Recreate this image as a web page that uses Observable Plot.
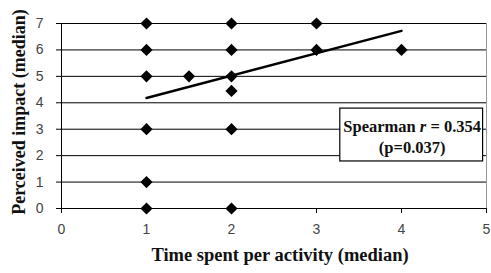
<!DOCTYPE html>
<html>
<head>
<meta charset="utf-8">
<script src="https://cdn.jsdelivr.net/npm/d3@7"></script>
<script src="https://cdn.jsdelivr.net/npm/@observablehq/plot@0.6"></script>
<style>
  html, body { margin: 0; padding: 0; background: #fff; }
  .note text { font-family: "Liberation Serif", "Times New Roman", serif; font-weight: bold; font-size: 16.5px; fill: #111; }
</style>
</head>
<body>
<div id="chart"></div>
<script>
// Data
const timeSpent   = [1, 1, 1, 1, 1, 1, 1.5, 2, 2, 2, 2, 2, 2, 3, 3, 4];
const impact      = [7, 6, 5, 3, 1, 0, 5,   7, 6, 5, 4.45, 3, 0, 7, 6, 6];
const fitX        = [1, 4];
const fitY        = [4.18, 6.72];
const xTicks      = [0, 1, 2, 3, 4, 5];
const yTicks      = [0, 1, 2, 3, 4, 5, 6, 7];
const xTitle      = "Time spent per activity (median)";
const yTitle      = "Perceived impact (median)";
const noteLine1a  = "Spearman ";
const noteLine1b  = "r";
const noteLine1c  = " = 0.354";
const noteLine2   = "(p=0.037)";
// annotation box corners in data units
const noteBox     = {x1: 3.28, x2: 4.96, y1: 1.78, y2: 3.78};

const points = timeSpent.map((x, i) => ({x, y: impact[i]}));
const fit = fitX.map((x, i) => ({x, y: fitY[i]}));

const tickFont = "Liberation Sans, Arial, sans-serif";
const serif = "Liberation Serif, Times New Roman, serif";

const plot = Plot.plot({
  width: 491,
  height: 273,
  marginLeft: 61,
  marginRight: 5,
  marginTop: 23,
  marginBottom: 65,
  style: {background: "#fff", fontFamily: tickFont, fontSize: "14px", color: "#333", overflow: "visible"},
  x: {domain: [0, 5], ticks: xTicks, tickFormat: "d"},
  y: {domain: [0, 7], ticks: yTicks, tickFormat: "d"},
  marks: [
    Plot.ruleY(yTicks, {stroke: "#000", strokeWidth: 1}),
    Plot.ruleX([5], {stroke: "#999", strokeWidth: 1}),
    Plot.ruleX([0], {stroke: "#000", strokeWidth: 1}),
    Plot.axisX({ticks: xTicks, tickFormat: "d", tickSize: 5, tickPadding: 11, stroke: "#000", label: null, fill: "#444", fontSize: 14}),
    Plot.axisY({ticks: yTicks, tickFormat: "d", tickSize: 5, tickPadding: 13, stroke: "#000", label: null, fill: "#444", fontSize: 14}),
    Plot.line(fit, {x: "x", y: "y", stroke: "#000", strokeWidth: 2.5}),
    Plot.dot(points, {x: "x", y: "y", symbol: "diamond2", r: 5.5, fill: "#000", stroke: "none"}),
    Plot.text([xTitle], {frameAnchor: "bottom", textAnchor: "middle", dx: 6, dy: 52, fontFamily: serif, fontWeight: "bold", fontSize: 18.5, fill: "#111"}),
    Plot.text([yTitle], {frameAnchor: "left", textAnchor: "middle", dx: -42, dy: -4, rotate: -90, fontFamily: serif, fontWeight: "bold", fontSize: 18, fill: "#111"})
  ]
});

// Annotation box drawn with the plot's own scales
const sx = plot.scale("x"), sy = plot.scale("y");
const svg = d3.select(plot);
const bx1 = sx.apply(noteBox.x1), bx2 = sx.apply(noteBox.x2);
const by1 = sy.apply(noteBox.y2), by2 = sy.apply(noteBox.y1);
const g = svg.append("g").attr("class", "note");
g.append("rect")
  .attr("x", bx1).attr("y", by1)
  .attr("width", bx2 - bx1).attr("height", by2 - by1)
  .attr("fill", "#fff").attr("stroke", "#000").attr("stroke-width", 1.2);
const cx = (bx1 + bx2) / 2 + 1;
const t1 = g.append("text")
  .attr("x", cx).attr("y", by1 + 23.5)
  .attr("text-anchor", "middle");
t1.append("tspan").text(noteLine1a);
t1.append("tspan").style("font-style", "italic").text(noteLine1b);
t1.append("tspan").text(noteLine1c);
g.append("text")
  .attr("x", cx).attr("y", by1 + 44.5)
  .attr("text-anchor", "middle")
  .text(noteLine2);

document.getElementById("chart").appendChild(plot);
</script>
</body>
</html>
